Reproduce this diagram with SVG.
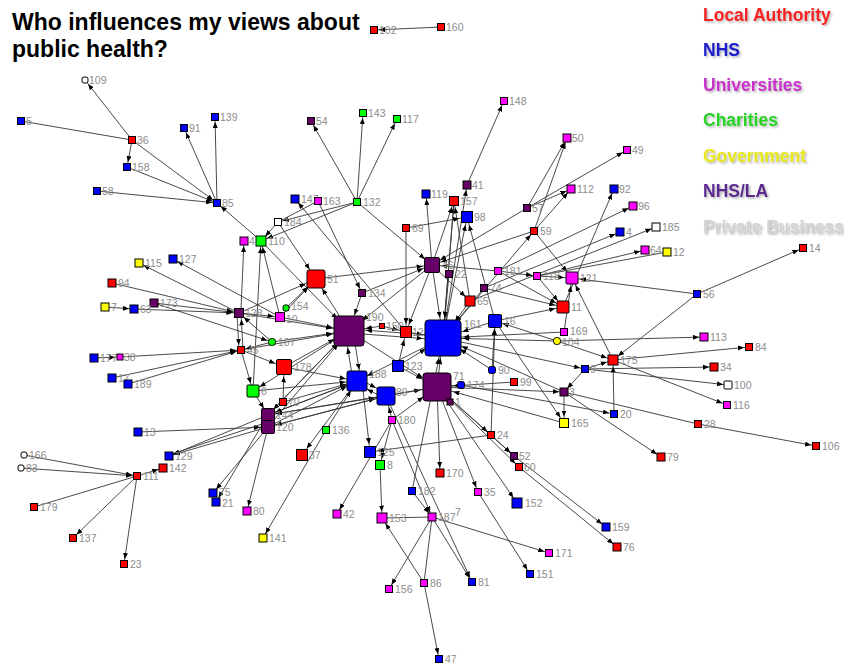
<svg xmlns="http://www.w3.org/2000/svg" width="844" height="665" viewBox="0 0 844 665">
<style>
.bg{fill:#fff}
#connectors line{stroke:#363636;stroke-width:0.9;fill:none}
.a{marker-end:url(#ma)}.b{marker-end:url(#mb)}.c{marker-end:url(#mc)}.d{marker-end:url(#md)}.e{marker-end:url(#me)}.f{marker-end:url(#mf)}.g{marker-end:url(#mg)}
.nd rect{stroke:#000;stroke-width:1}
.nd text{font-family:"Liberation Sans",Arial,sans-serif;font-size:10.5px;fill:#8c8c8c}
.R{fill:#ff0000}.B{fill:#0000ff}.M{fill:#ff00ff}.G{fill:#00ff00}.Y{fill:#ffff00}.P{fill:#660066}.W{fill:#ffffff}
.title{font-family:"Liberation Sans",Arial,sans-serif;font-weight:bold;font-size:23px;fill:#000}
.lg{font-family:"Liberation Sans",Arial,sans-serif;font-weight:bold;font-size:17.5px;filter:url(#sh)}
</style>
<defs>
<filter id="sh" x="-10%" y="-30%" width="120%" height="160%"><feDropShadow dx="1.5" dy="1.5" stdDeviation="0.9" flood-color="#000" flood-opacity="0.3"/></filter>
<marker id="ma" viewBox="0 0 6 5" refX="11" refY="2.5" markerWidth="6" markerHeight="5" orient="auto" markerUnits="userSpaceOnUse"><path d="M0,0 L6,2.5 L0,5z" fill="#000"/></marker>
<marker id="mb" viewBox="0 0 6 5" refX="12.5" refY="2.5" markerWidth="6" markerHeight="5" orient="auto" markerUnits="userSpaceOnUse"><path d="M0,0 L6,2.5 L0,5z" fill="#000"/></marker>
<marker id="mc" viewBox="0 0 6 5" refX="14" refY="2.5" markerWidth="6" markerHeight="5" orient="auto" markerUnits="userSpaceOnUse"><path d="M0,0 L6,2.5 L0,5z" fill="#000"/></marker>
<marker id="md" viewBox="0 0 6 5" refX="15.5" refY="2.5" markerWidth="6" markerHeight="5" orient="auto" markerUnits="userSpaceOnUse"><path d="M0,0 L6,2.5 L0,5z" fill="#000"/></marker>
<marker id="me" viewBox="0 0 6 5" refX="17.5" refY="2.5" markerWidth="6" markerHeight="5" orient="auto" markerUnits="userSpaceOnUse"><path d="M0,0 L6,2.5 L0,5z" fill="#000"/></marker>
<marker id="mf" viewBox="0 0 6 5" refX="23" refY="2.5" markerWidth="6" markerHeight="5" orient="auto" markerUnits="userSpaceOnUse"><path d="M0,0 L6,2.5 L0,5z" fill="#000"/></marker>
<marker id="mg" viewBox="0 0 6 5" refX="26.5" refY="2.5" markerWidth="6" markerHeight="5" orient="auto" markerUnits="userSpaceOnUse"><path d="M0,0 L6,2.5 L0,5z" fill="#000"/></marker>
</defs>
<rect class="bg" x="0" y="0" width="844" height="665"/>
<g id="title">
<text class="title" x="12" y="30">Who influences my views about</text>
<text class="title" x="12" y="57">public health?</text>
</g>
<g id="legend">
<text class="lg" x="703" y="21" fill="#f42424">Local Authority</text>
<text class="lg" x="703" y="56" fill="#1c1cc8">NHS</text>
<text class="lg" x="703" y="91" fill="#c832c8">Universities</text>
<text class="lg" x="703" y="126" fill="#28d228">Charities</text>
<text class="lg" x="703" y="162" fill="#e6e61e">Government</text>
<text class="lg" x="703" y="197" fill="#5b2c8f">NHS/LA</text>
<text class="lg" x="703" y="233" fill="#d2d2d2">Private Business</text>
</g>
<g id="connectors">
<line x1="441" y1="27" x2="374" y2="30" class="a"/>
<line x1="132" y1="140" x2="85" y2="80" class="a"/>
<line x1="21" y1="121" x2="132" y2="140"/>
<line x1="132" y1="140" x2="127" y2="167" class="a"/>
<line x1="132" y1="140" x2="217" y2="203" class="a"/>
<line x1="127" y1="167" x2="217" y2="203" class="a"/>
<line x1="97" y1="191" x2="217" y2="203" class="a"/>
<line x1="217" y1="203" x2="184" y2="128" class="a"/>
<line x1="217" y1="203" x2="215" y2="117" class="a"/>
<line x1="261" y1="241" x2="217" y2="203" class="a"/>
<line x1="357" y1="202" x2="311" y2="121" class="a"/>
<line x1="357" y1="202" x2="363" y2="113" class="a"/>
<line x1="357" y1="202" x2="397" y2="119" class="a"/>
<line x1="467" y1="185" x2="504" y2="101" class="a"/>
<line x1="357" y1="202" x2="278" y2="222" class="a"/>
<line x1="357" y1="202" x2="261" y2="241" class="b"/>
<line x1="406" y1="332" x2="295" y2="199" class="a"/>
<line x1="318" y1="201" x2="278" y2="222"/>
<line x1="318" y1="201" x2="362" y2="293" class="a"/>
<line x1="278" y1="222" x2="316" y2="279" class="e"/>
<line x1="357" y1="202" x2="432" y2="265" class="d"/>
<line x1="432" y1="265" x2="426" y2="194" class="a"/>
<line x1="432" y1="265" x2="454" y2="201" class="b"/>
<line x1="443" y1="338" x2="454" y2="201" class="b"/>
<line x1="470" y1="301" x2="454" y2="201" class="b"/>
<line x1="406" y1="228" x2="467" y2="217" class="c"/>
<line x1="406" y1="228" x2="406" y2="332" class="c"/>
<line x1="443" y1="338" x2="467" y2="217" class="c"/>
<line x1="495" y1="321" x2="467" y2="217" class="c"/>
<line x1="443" y1="338" x2="467" y2="185" class="a"/>
<line x1="527" y1="208" x2="432" y2="265" class="d"/>
<line x1="498" y1="271" x2="432" y2="265" class="d"/>
<line x1="534" y1="231" x2="432" y2="265" class="d"/>
<line x1="527" y1="208" x2="567" y2="138" class="a"/>
<line x1="534" y1="231" x2="567" y2="138" class="a"/>
<line x1="534" y1="231" x2="571" y2="189" class="a"/>
<line x1="527" y1="208" x2="571" y2="189" class="a"/>
<line x1="527" y1="208" x2="627" y2="150" class="a"/>
<line x1="449" y1="274" x2="443" y2="338" class="g"/>
<line x1="432" y1="265" x2="443" y2="338" class="g"/>
<line x1="432" y1="265" x2="470" y2="301" class="b"/>
<line x1="470" y1="301" x2="443" y2="338" class="g"/>
<line x1="484" y1="288" x2="443" y2="338" class="g"/>
<line x1="498" y1="271" x2="563" y2="307" class="c"/>
<line x1="537" y1="276" x2="563" y2="307" class="c"/>
<line x1="534" y1="231" x2="572" y2="278" class="c"/>
<line x1="537" y1="276" x2="572" y2="278" class="c"/>
<line x1="563" y1="307" x2="614" y2="189" class="a"/>
<line x1="498" y1="271" x2="633" y2="206" class="a"/>
<line x1="484" y1="288" x2="620" y2="232" class="a"/>
<line x1="470" y1="301" x2="656" y2="227" class="a"/>
<line x1="537" y1="276" x2="645" y2="250" class="a"/>
<line x1="537" y1="276" x2="667" y2="252"/>
<line x1="697" y1="294" x2="572" y2="278" class="c"/>
<line x1="697" y1="294" x2="803" y2="248" class="a"/>
<line x1="697" y1="294" x2="613" y2="360" class="b"/>
<line x1="613" y1="360" x2="572" y2="278" class="c"/>
<line x1="564" y1="332" x2="572" y2="278" class="c"/>
<line x1="557" y1="341" x2="704" y2="337" class="a"/>
<line x1="557" y1="341" x2="613" y2="360" class="b"/>
<line x1="613" y1="360" x2="749" y2="347" class="a"/>
<line x1="585" y1="369" x2="714" y2="367" class="a"/>
<line x1="585" y1="369" x2="728" y2="385" class="a"/>
<line x1="613" y1="360" x2="727" y2="405" class="a"/>
<line x1="614" y1="414" x2="613" y2="360" class="b"/>
<line x1="585" y1="369" x2="613" y2="360" class="b"/>
<line x1="585" y1="369" x2="564" y2="392" class="a"/>
<line x1="564" y1="392" x2="564" y2="423" class="b"/>
<line x1="564" y1="392" x2="661" y2="457" class="a"/>
<line x1="564" y1="392" x2="698" y2="424"/>
<line x1="698" y1="424" x2="816" y2="446" class="a"/>
<line x1="443" y1="338" x2="585" y2="369" class="a"/>
<line x1="461" y1="385" x2="614" y2="414" class="a"/>
<line x1="495" y1="321" x2="564" y2="423" class="b"/>
<line x1="557" y1="341" x2="495" y2="321" class="c"/>
<line x1="557" y1="341" x2="443" y2="338" class="g"/>
<line x1="564" y1="332" x2="443" y2="338" class="g"/>
<line x1="498" y1="271" x2="537" y2="276" class="a"/>
<line x1="443" y1="338" x2="534" y2="231" class="a"/>
<line x1="280" y1="317" x2="349" y2="331" class="f"/>
<line x1="239" y1="313" x2="349" y2="331" class="f"/>
<line x1="272" y1="342" x2="349" y2="331" class="f"/>
<line x1="241" y1="350" x2="349" y2="331" class="f"/>
<line x1="284" y1="367" x2="349" y2="331" class="f"/>
<line x1="362" y1="293" x2="349" y2="331" class="f"/>
<line x1="382" y1="326" x2="349" y2="331" class="f"/>
<line x1="353" y1="381" x2="345" y2="331" class="f"/>
<line x1="353" y1="331" x2="361" y2="381" class="e"/>
<line x1="268" y1="415" x2="349" y2="331" class="f"/>
<line x1="268" y1="427" x2="349" y2="331" class="f"/>
<line x1="261" y1="241" x2="349" y2="331" class="f"/>
<line x1="349" y1="331" x2="316" y2="279" class="e"/>
<line x1="286" y1="308" x2="316" y2="279" class="e"/>
<line x1="280" y1="317" x2="316" y2="279" class="e"/>
<line x1="316" y1="279" x2="432" y2="265" class="d"/>
<line x1="154" y1="303" x2="272" y2="342" class="a"/>
<line x1="239" y1="313" x2="280" y2="317" class="b"/>
<line x1="241" y1="309" x2="244" y2="241" class="a"/>
<line x1="237" y1="313" x2="239" y2="350" class="a"/>
<line x1="243" y1="350" x2="241" y2="313" class="b"/>
<line x1="253" y1="391" x2="261" y2="241" class="b"/>
<line x1="241" y1="350" x2="253" y2="391" class="c"/>
<line x1="253" y1="391" x2="268" y2="415" class="c"/>
<line x1="283" y1="402" x2="284" y2="367" class="d"/>
<line x1="138" y1="432" x2="268" y2="427" class="c"/>
<line x1="268" y1="427" x2="169" y2="456" class="a"/>
<line x1="268" y1="415" x2="169" y2="456" class="a"/>
<line x1="268" y1="422" x2="172" y2="454"/>
<line x1="268" y1="427" x2="213" y2="493" class="a"/>
<line x1="268" y1="415" x2="216" y2="502" class="a"/>
<line x1="268" y1="427" x2="247" y2="511" class="a"/>
<line x1="239" y1="313" x2="139" y2="263" class="a"/>
<line x1="280" y1="317" x2="173" y2="259" class="a"/>
<line x1="112" y1="283" x2="239" y2="313" class="b"/>
<line x1="154" y1="303" x2="239" y2="313" class="b"/>
<line x1="134" y1="309" x2="239" y2="313" class="b"/>
<line x1="105" y1="307" x2="134" y2="309" class="a"/>
<line x1="120" y1="357" x2="241" y2="350" class="a"/>
<line x1="94" y1="358" x2="120" y2="357" class="a"/>
<line x1="112" y1="378" x2="241" y2="350" class="a"/>
<line x1="128" y1="384" x2="241" y2="350" class="a"/>
<line x1="272" y1="342" x2="241" y2="350" class="a"/>
<line x1="272" y1="342" x2="239" y2="313" class="b"/>
<line x1="239" y1="313" x2="316" y2="279" class="e"/>
<line x1="280" y1="317" x2="261" y2="241" class="b"/>
<line x1="278" y1="222" x2="261" y2="241" class="b"/>
<line x1="253" y1="391" x2="357" y2="381" class="e"/>
<line x1="284" y1="367" x2="357" y2="381" class="e"/>
<line x1="283" y1="402" x2="357" y2="381" class="e"/>
<line x1="268" y1="415" x2="357" y2="381" class="e"/>
<line x1="268" y1="427" x2="357" y2="381" class="e"/>
<line x1="268" y1="427" x2="386" y2="396" class="e"/>
<line x1="268" y1="415" x2="386" y2="396" class="e"/>
<line x1="326" y1="430" x2="357" y2="381" class="e"/>
<line x1="326" y1="430" x2="263" y2="538" class="a"/>
<line x1="357" y1="381" x2="302" y2="455" class="c"/>
<line x1="362" y1="381" x2="370" y2="452" class="c"/>
<line x1="392" y1="420" x2="380" y2="465" class="b"/>
<line x1="380" y1="465" x2="382" y2="518" class="b"/>
<line x1="392" y1="420" x2="337" y2="514" class="a"/>
<line x1="392" y1="420" x2="432" y2="517" class="a"/>
<line x1="412" y1="491" x2="432" y2="517" class="a"/>
<line x1="412" y1="491" x2="443" y2="338" class="g"/>
<line x1="432" y1="517" x2="389" y2="589" class="a"/>
<line x1="432" y1="517" x2="472" y2="582" class="a"/>
<line x1="432" y1="517" x2="549" y2="553" class="a"/>
<line x1="432" y1="517" x2="424" y2="583"/>
<line x1="424" y1="583" x2="382" y2="518" class="b"/>
<line x1="424" y1="583" x2="439" y2="659" class="a"/>
<line x1="432" y1="517" x2="382" y2="518"/>
<line x1="437" y1="387" x2="478" y2="492" class="a"/>
<line x1="478" y1="492" x2="530" y2="574" class="a"/>
<line x1="437" y1="387" x2="517" y2="503" class="b"/>
<line x1="437" y1="387" x2="440" y2="473" class="a"/>
<line x1="491" y1="435" x2="370" y2="452" class="c"/>
<line x1="491" y1="435" x2="514" y2="456" class="a"/>
<line x1="491" y1="435" x2="495" y2="321" class="c"/>
<line x1="514" y1="456" x2="606" y2="527" class="a"/>
<line x1="519" y1="467" x2="617" y2="547" class="a"/>
<line x1="437" y1="387" x2="514" y2="456" class="a"/>
<line x1="437" y1="387" x2="519" y2="467" class="a"/>
<line x1="437" y1="387" x2="491" y2="435" class="a"/>
<line x1="514" y1="382" x2="437" y2="387" class="f"/>
<line x1="437" y1="387" x2="564" y2="392" class="a"/>
<line x1="492" y1="370" x2="443" y2="338" class="g"/>
<line x1="492" y1="370" x2="495" y2="321" class="c"/>
<line x1="461" y1="385" x2="437" y2="387" class="f"/>
<line x1="437" y1="387" x2="443" y2="338" class="g"/>
<line x1="386" y1="396" x2="437" y2="387" class="f"/>
<line x1="398" y1="366" x2="437" y2="387" class="f"/>
<line x1="357" y1="378" x2="386" y2="393" class="e"/>
<line x1="386" y1="399" x2="357" y2="384" class="e"/>
<line x1="398" y1="366" x2="443" y2="338" class="g"/>
<line x1="406" y1="332" x2="443" y2="338" class="g"/>
<line x1="382" y1="326" x2="406" y2="332" class="c"/>
<line x1="398" y1="366" x2="406" y2="332" class="c"/>
<line x1="392" y1="420" x2="386" y2="396" class="e"/>
<line x1="443" y1="338" x2="357" y2="381" class="e"/>
<line x1="349" y1="331" x2="437" y2="387" class="f"/>
<line x1="349" y1="333" x2="443" y2="340" class="g"/>
<line x1="443" y1="336" x2="349" y2="329" class="f"/>
<line x1="432" y1="265" x2="349" y2="331" class="f"/>
<line x1="386" y1="396" x2="472" y2="582" class="a"/>
<line x1="349" y1="331" x2="268" y2="415" class="c"/>
<line x1="357" y1="381" x2="268" y2="415" class="c"/>
<line x1="386" y1="396" x2="268" y2="427" class="c"/>
<line x1="24" y1="455" x2="137" y2="476" class="a"/>
<line x1="21" y1="468" x2="137" y2="476" class="a"/>
<line x1="34" y1="507" x2="137" y2="476"/>
<line x1="137" y1="476" x2="73" y2="538" class="a"/>
<line x1="137" y1="476" x2="124" y2="564" class="a"/>
<line x1="137" y1="476" x2="163" y2="468" class="a"/>
<line x1="362" y1="293" x2="432" y2="265" class="d"/>
<line x1="495" y1="321" x2="443" y2="338" class="g"/>
<line x1="564" y1="392" x2="443" y2="338" class="g"/>
<line x1="564" y1="423" x2="437" y2="387" class="f"/>
<line x1="495" y1="321" x2="563" y2="307" class="c"/>
<line x1="484" y1="288" x2="563" y2="307" class="c"/>
<line x1="432" y1="265" x2="406" y2="332" class="c"/>
<line x1="454" y1="201" x2="443" y2="338" class="g"/>
<line x1="392" y1="420" x2="437" y2="387" class="f"/>
<line x1="241" y1="350" x2="284" y2="367" class="d"/>
<line x1="437" y1="387" x2="268" y2="415" class="c"/>
<line x1="349" y1="331" x2="253" y2="391" class="c"/>
</g>
<g id="nodes" class="nd">
<g id="n102"><rect class="R" x="370.5" y="26.5" width="7" height="7"/><text x="379" y="34">102</text></g>
<g id="n160"><rect class="R" x="437.5" y="23.5" width="7" height="7"/><text x="446" y="31">160</text></g>
<g id="n109"><rect class="W" x="82" y="77" width="6" height="6" rx="2"/><text x="89" y="84">109</text></g>
<g id="n5"><rect class="B" x="17.5" y="117.5" width="7" height="7"/><text x="26" y="125">5</text></g>
<g id="n36"><rect class="R" x="128.5" y="136.5" width="7" height="7"/><text x="137" y="144">36</text></g>
<g id="n91"><rect class="B" x="180.5" y="124.5" width="7" height="7"/><text x="189" y="132">91</text></g>
<g id="n139"><rect class="B" x="211.5" y="113.5" width="7" height="7"/><text x="220" y="121">139</text></g>
<g id="n158"><rect class="B" x="123.5" y="163.5" width="7" height="7"/><text x="132" y="171">158</text></g>
<g id="n58"><rect class="B" x="93.5" y="187.5" width="7" height="7"/><text x="102" y="195">58</text></g>
<g id="n85"><rect class="B" x="213.5" y="199.5" width="7" height="7"/><text x="222" y="207">85</text></g>
<g id="n54"><rect class="P" x="307.5" y="117.5" width="7" height="7"/><text x="316" y="125">54</text></g>
<g id="n143"><rect class="G" x="359.5" y="109.5" width="7" height="7"/><text x="368" y="117">143</text></g>
<g id="n117"><rect class="G" x="393.5" y="115.5" width="7" height="7"/><text x="402" y="123">117</text></g>
<g id="n148"><rect class="M" x="500.5" y="97.5" width="7" height="7"/><text x="509" y="105">148</text></g>
<g id="n50"><rect class="M" x="563" y="134" width="8" height="8"/><text x="572" y="142">50</text></g>
<g id="n49"><rect class="M" x="623.5" y="146.5" width="7" height="7"/><text x="632" y="154">49</text></g>
<g id="n41"><rect class="P" x="463" y="181" width="8" height="8"/><text x="472" y="189">41</text></g>
<g id="n157"><rect class="R" x="449.5" y="196.5" width="9" height="9"/><text x="460" y="205">157</text></g>
<g id="n98"><rect class="B" x="461.5" y="211.5" width="11" height="11"/><text x="474" y="221">98</text></g>
<g id="n119"><rect class="B" x="422" y="190" width="8" height="8"/><text x="431" y="198">119</text></g>
<g id="n57"><rect class="P" x="523.5" y="204.5" width="7" height="7"/><text x="532" y="212">57</text></g>
<g id="n112"><rect class="M" x="567" y="185" width="8" height="8"/><text x="577" y="193">112</text></g>
<g id="n92"><rect class="B" x="610" y="185" width="8" height="8"/><text x="619" y="193">92</text></g>
<g id="n96"><rect class="M" x="629" y="202" width="8" height="8"/><text x="638" y="210">96</text></g>
<g id="n4"><rect class="B" x="616" y="228" width="8" height="8"/><text x="626" y="236">4</text></g>
<g id="n185"><rect class="W" x="652" y="223" width="8" height="8"/><text x="662" y="231">185</text></g>
<g id="n64"><rect class="M" x="641" y="246" width="8" height="8"/><text x="650" y="254">64</text></g>
<g id="n12"><rect class="Y" x="663" y="248" width="8" height="8"/><text x="673" y="256">12</text></g>
<g id="n14"><rect class="R" x="799.5" y="244.5" width="7" height="7"/><text x="809" y="252">14</text></g>
<g id="n59"><rect class="R" x="530.5" y="227.5" width="7" height="7"/><text x="540" y="235">59</text></g>
<g id="n147"><rect class="B" x="291" y="195" width="8" height="8"/><text x="301" y="203">147</text></g>
<g id="n163"><rect class="M" x="314.5" y="197.5" width="7" height="7"/><text x="323" y="205">163</text></g>
<g id="n132"><rect class="G" x="353.5" y="198.5" width="7" height="7"/><text x="363" y="206">132</text></g>
<g id="n184"><rect class="W" x="274.5" y="218.5" width="7" height="7"/><text x="284" y="226">184</text></g>
<g id="n110"><rect class="G" x="256" y="236" width="10" height="10"/><text x="268" y="245">110</text></g>
<g id="n4b"><rect class="M" x="240" y="237" width="8" height="8"/><text x="249" y="245">4</text></g>
<g id="n69"><rect class="R" x="402.5" y="224.5" width="7" height="7"/><text x="412" y="232">69</text></g>
<g id="n46"><rect class="P" x="424.5" y="257.5" width="15" height="15" rx="1.5"/><text x="442" y="269">46</text></g>
<g id="n22"><rect class="P" x="445.5" y="270.5" width="7" height="7"/><text x="455" y="278">22</text></g>
<g id="n181"><rect class="M" x="494.5" y="267.5" width="7" height="7"/><text x="504" y="275">181</text></g>
<g id="n118"><rect class="M" x="533.5" y="272.5" width="7" height="7"/><text x="543" y="280">118</text></g>
<g id="n121"><rect class="M" x="566" y="272" width="12" height="12" rx="1"/><text x="580" y="282">121</text></g>
<g id="n74"><rect class="P" x="480.5" y="284.5" width="7" height="7"/><text x="490" y="292">74</text></g>
<g id="n65"><rect class="R" x="465" y="296" width="10" height="10"/><text x="477" y="305">65</text></g>
<g id="n11"><rect class="R" x="557" y="301" width="12" height="12" rx="1"/><text x="571" y="311">11</text></g>
<g id="n56"><rect class="B" x="693.5" y="290.5" width="7" height="7"/><text x="703" y="298">56</text></g>
<g id="n51"><rect class="R" x="307" y="270" width="18" height="18" rx="2"/><text x="327" y="283">51</text></g>
<g id="n134"><rect class="P" x="358.5" y="289.5" width="7" height="7"/><text x="368" y="297">134</text></g>
<g id="n115"><rect class="Y" x="135" y="259" width="8" height="8"/><text x="145" y="267">115</text></g>
<g id="n127"><rect class="B" x="169" y="255" width="8" height="8"/><text x="179" y="263">127</text></g>
<g id="n94"><rect class="R" x="108" y="279" width="8" height="8"/><text x="118" y="287">94</text></g>
<g id="n173"><rect class="P" x="150" y="299" width="8" height="8"/><text x="160" y="307">173</text></g>
<g id="n7"><rect class="Y" x="101" y="303" width="8" height="8"/><text x="111" y="311">7</text></g>
<g id="n63"><rect class="B" x="130" y="305" width="8" height="8"/><text x="140" y="313">63</text></g>
<g id="n128"><rect class="P" x="234.5" y="308.5" width="9" height="9"/><text x="245" y="317">128</text></g>
<g id="n154"><rect class="G" x="283" y="305" width="6" height="6" rx="2"/><text x="291" y="310">154</text></g>
<g id="n10"><rect class="M" x="275.5" y="312.5" width="9" height="9"/><text x="286" y="323">10</text></g>
<g id="n190"><rect class="P" x="334" y="316" width="30" height="30" rx="3"/><text x="366" y="321">190</text></g>
<g id="n150"><rect class="R" x="379.5" y="323.5" width="5" height="5"/><text x="386" y="330">150</text></g>
<g id="n12r"><rect class="R" x="400.5" y="326.5" width="11" height="11"/><text x="412" y="336">12</text></g>
<g id="n161"><rect class="B" x="425" y="320" width="36" height="36" rx="3.5"/><text x="464" y="328">161</text></g>
<g id="n16"><rect class="B" x="488.5" y="314.5" width="13" height="13" rx="1"/><text x="504" y="325">16</text></g>
<g id="n169"><rect class="M" x="560.5" y="328.5" width="7" height="7"/><text x="570" y="335">169</text></g>
<g id="n104"><rect class="Y" x="553.5" y="337.5" width="7" height="7" rx="3"/><text x="562" y="346">104</text></g>
<g id="n113"><rect class="M" x="700" y="333" width="8" height="8"/><text x="710" y="341">113</text></g>
<g id="n84"><rect class="R" x="745.5" y="343.5" width="7" height="7"/><text x="755" y="351">84</text></g>
<g id="n175"><rect class="R" x="608" y="355" width="10" height="10"/><text x="620" y="364">175</text></g>
<g id="n34"><rect class="R" x="710" y="363" width="8" height="8"/><text x="720" y="371">34</text></g>
<g id="n107"><rect class="G" x="268.5" y="338.5" width="7" height="7" rx="3"/><text x="278" y="346">107</text></g>
<g id="n45"><rect class="R" x="237.5" y="346.5" width="7" height="7"/><text x="247" y="354">45</text></g>
<g id="n177"><rect class="B" x="90" y="354" width="8" height="8"/><text x="100" y="362">177</text></g>
<g id="n38"><rect class="M" x="117" y="354" width="6" height="6"/><text x="124" y="361">38</text></g>
<g id="n17"><rect class="B" x="108" y="374" width="8" height="8"/><text x="118" y="382">17</text></g>
<g id="n189"><rect class="B" x="124" y="380" width="8" height="8"/><text x="134" y="388">189</text></g>
<g id="n178"><rect class="R" x="276.5" y="359.5" width="15" height="15" rx="1.5"/><text x="294" y="371">178</text></g>
<g id="n123"><rect class="B" x="392.5" y="360.5" width="11" height="11"/><text x="405" y="370">123</text></g>
<g id="n188"><rect class="B" x="347" y="371" width="20" height="20" rx="2"/><text x="369" y="378">188</text></g>
<g id="n89"><rect class="B" x="377" y="387" width="18" height="18" rx="2"/><text x="396" y="396">89</text></g>
<g id="n71"><rect class="P" x="423" y="373" width="28" height="28" rx="3"/><text x="453" y="380">71</text></g>
<g id="n90"><rect class="B" x="488.5" y="366.5" width="7" height="7" rx="2"/><text x="498" y="374">90</text></g>
<g id="n174"><rect class="B" x="457.5" y="381.5" width="7" height="7" rx="2"/><text x="467" y="389">174</text></g>
<g id="n99"><rect class="R" x="510.5" y="378.5" width="7" height="7"/><text x="520" y="386">99</text></g>
<g id="n9"><rect class="B" x="581.5" y="365.5" width="7" height="7"/><text x="590" y="373">9</text></g>
<g id="n100"><rect class="W" x="724" y="381" width="8" height="8" rx="1"/><text x="734" y="389">100</text></g>
<g id="n3"><rect class="P" x="560" y="388" width="8" height="8"/><text x="569" y="396">3</text></g>
<g id="n116"><rect class="M" x="723.5" y="401.5" width="7" height="7"/><text x="733" y="409">116</text></g>
<g id="n20"><rect class="B" x="610.5" y="410.5" width="7" height="7"/><text x="620" y="418">20</text></g>
<g id="n165"><rect class="Y" x="559.5" y="418.5" width="9" height="9"/><text x="571" y="427">165</text></g>
<g id="n28"><rect class="R" x="694.5" y="420.5" width="7" height="7"/><text x="704" y="428">28</text></g>
<g id="n106"><rect class="R" x="812.5" y="442.5" width="7" height="7"/><text x="822" y="450">106</text></g>
<g id="n79"><rect class="R" x="657" y="453" width="8" height="8"/><text x="667" y="461">79</text></g>
<g id="n6"><rect class="G" x="247" y="385" width="12" height="12" rx="1"/><text x="261" y="395">6</text></g>
<g id="n70"><rect class="R" x="279.5" y="398.5" width="7" height="7"/><text x="288" y="406">70</text></g>
<g id="n144"><rect class="P" x="261.5" y="408.5" width="13" height="13" rx="1"/><text x="276" y="419">144</text></g>
<g id="n120"><rect class="P" x="261.5" y="420.5" width="13" height="13" rx="1"/><text x="276" y="431">120</text></g>
<g id="n13"><rect class="B" x="134" y="428" width="8" height="8"/><text x="144" y="436">13</text></g>
<g id="n136"><rect class="G" x="322.5" y="426.5" width="7" height="7"/><text x="332" y="434">136</text></g>
<g id="n180"><rect class="M" x="388.5" y="416.5" width="7" height="7"/><text x="398" y="424">180</text></g>
<g id="n24"><rect class="R" x="487.5" y="431.5" width="7" height="7"/><text x="497" y="439">24</text></g>
<g id="n125"><rect class="B" x="364.5" y="446.5" width="11" height="11"/><text x="377" y="456">125</text></g>
<g id="n8"><rect class="G" x="375.5" y="460.5" width="9" height="9"/><text x="387" y="469">8</text></g>
<g id="n37"><rect class="R" x="296.5" y="449.5" width="11" height="11"/><text x="309" y="459">37</text></g>
<g id="n52"><rect class="P" x="510.5" y="452.5" width="7" height="7"/><text x="519" y="460">52</text></g>
<g id="n60"><rect class="R" x="515.5" y="463.5" width="7" height="7"/><text x="524" y="471">60</text></g>
<g id="n170"><rect class="R" x="436" y="469" width="8" height="8"/><text x="446" y="477">170</text></g>
<g id="n129"><rect class="B" x="165" y="452" width="8" height="8"/><text x="175" y="460">129</text></g>
<g id="n142"><rect class="R" x="159" y="464" width="8" height="8"/><text x="169" y="472">142</text></g>
<g id="n166"><rect class="W" x="21" y="452" width="6" height="6" rx="2"/><text x="29" y="459">166</text></g>
<g id="n83"><rect class="W" x="18" y="465" width="6" height="6" rx="2"/><text x="26" y="472">83</text></g>
<g id="n111"><rect class="R" x="133.5" y="472.5" width="7" height="7"/><text x="143" y="480">111</text></g>
<g id="n179"><rect class="R" x="30.5" y="503.5" width="7" height="7"/><text x="40" y="511">179</text></g>
<g id="n75"><rect class="B" x="209" y="489" width="8" height="8"/><text x="219" y="496">75</text></g>
<g id="n21"><rect class="B" x="212" y="498" width="8" height="8"/><text x="222" y="507">21</text></g>
<g id="n80"><rect class="M" x="243" y="507" width="8" height="8"/><text x="253" y="515">80</text></g>
<g id="n137"><rect class="R" x="69.5" y="534.5" width="7" height="7"/><text x="79" y="542">137</text></g>
<g id="n23"><rect class="R" x="120.5" y="560.5" width="7" height="7"/><text x="130" y="568">23</text></g>
<g id="n141"><rect class="Y" x="259" y="534" width="8" height="8"/><text x="269" y="542">141</text></g>
<g id="n182"><rect class="B" x="408.5" y="487.5" width="7" height="7"/><text x="418" y="495">182</text></g>
<g id="n35"><rect class="M" x="474.5" y="488.5" width="7" height="7"/><text x="484" y="496">35</text></g>
<g id="n152"><rect class="B" x="512" y="498" width="10" height="10"/><text x="525" y="507">152</text></g>
<g id="n42"><rect class="M" x="333" y="510" width="8" height="8"/><text x="343" y="518">42</text></g>
<g id="n153"><rect class="M" x="377" y="513" width="10" height="10"/><text x="389" y="522">153</text></g>
<g id="n187"><rect class="M" x="428" y="513" width="8" height="8"/><text x="438" y="521">187</text><text x="455" y="516">7</text></g>
<g id="n159"><rect class="B" x="602" y="523" width="8" height="8"/><text x="612" y="531">159</text></g>
<g id="n76"><rect class="R" x="613" y="543" width="8" height="8"/><text x="623" y="551">76</text></g>
<g id="n171"><rect class="M" x="545.5" y="549.5" width="7" height="7"/><text x="555" y="557">171</text></g>
<g id="n151"><rect class="B" x="526.5" y="570.5" width="7" height="7"/><text x="536" y="578">151</text></g>
<g id="n81"><rect class="B" x="468.5" y="578.5" width="7" height="7"/><text x="478" y="586">81</text></g>
<g id="n156"><rect class="M" x="385.5" y="585.5" width="7" height="7"/><text x="395" y="593">156</text></g>
<g id="n86"><rect class="M" x="420.5" y="579.5" width="7" height="7"/><text x="430" y="587">86</text></g>
<g id="n47"><rect class="B" x="435.5" y="655.5" width="7" height="7"/><text x="445" y="663">47</text></g>
<g id="n1"><rect class="P" x="447" y="399" width="6" height="6"/><text x="455" y="406">1</text></g>
</g>
</svg>
